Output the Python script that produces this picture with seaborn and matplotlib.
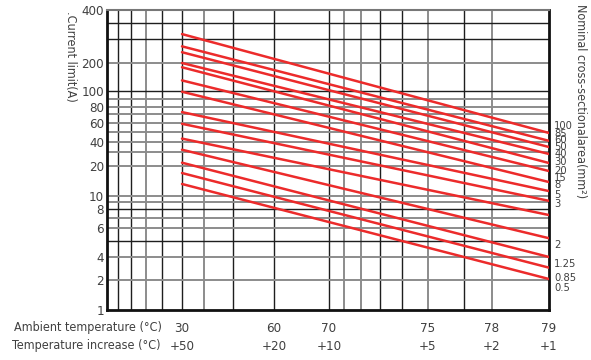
import numpy as np
import pandas as pd
import matplotlib
matplotlib.use("Agg")
import matplotlib.pyplot as plt
import seaborn as sns

# ---- data ----
ambient_from = 30
ambient_to = 79
current_at_30 = [315, 265, 240, 200, 180, 130, 99, 73, 59, 43, 32, 22, 17, 13.2]
current_at_79 = [48.5, 41, 34.6, 28.3, 21.8, 17.8, 13.8, 11.2, 9.2, 7.3, 5.2, 4.0, 2.9, 2.06]

temp_ticks = [30, 60, 70, 75, 78, 79]
rise_labels = ["+50", "+20", "+10", "+5", "+2", "+1"]
current_ticks = [1, 2, 4, 6, 8, 10, 20, 40, 60, 80, 100, 200, 400]

area_labels = ["100", "85", "60", "50", "40", "30", "20", "15", "8", "5", "3",
               "2", "1.25", "0.85", "0.5"]
area_label_current = [56.3, 47.1, 41.7, 34.3, 28.0, 22.3, 17.8, 15.1, 12.9, 10.2,
                      8.7, 4.73, 3.24, 2.14, 1.65]

# grid values (temperature increase for x, current for y)
rise_grid_dark = [90, 80, 60, 50, 30, 20, 10, 7, 6, 3]
rise_grid_light = [70, 40, 9, 8, 5, 2]
current_grid_dark = [350, 300, 100, 8, 5]
current_grid_light = [200, 90, 80, 70, 60, 50, 40, 30, 20, 10, 9, 7, 6, 4, 2]

# ---- the chart's uneven axes ----
x_knots = np.array([-20, 30, 60, 70, 75, 78, 79], float)
x_knot_frac = (np.array([107, 182, 274, 329, 428, 492, 549]) - 107) / 442
y_knots = np.array([1, 2, 4, 6, 8, 10, 20, 40, 60, 80, 100, 200, 300, 400], float)
y_knot_frac = (310 - np.array([310, 280, 257, 228, 209, 196, 166, 142, 123, 107, 91, 63, 39, 10])) / 300

xk = -np.log10(80 - x_knots)
yk = np.log10(y_knots)


def fwd_x(x):
    d = np.clip(80 - np.asarray(x, float), 1e-3, None)
    return np.interp(-np.log10(d), xk, x_knot_frac)


def inv_x(f):
    return 80 - 10 ** (-np.interp(np.asarray(f, float), x_knot_frac, xk))


def fwd_y(v):
    return np.interp(np.log10(np.clip(np.asarray(v, float), 1e-6, None)), yk, y_knot_frac)


def inv_y(f):
    return 10 ** np.interp(np.asarray(f, float), y_knot_frac, yk)


rows = []
for i, (a, b) in enumerate(zip(current_at_30, current_at_79)):
    rows.append({"line": i, "ambient": ambient_from, "current": a})
    rows.append({"line": i, "ambient": ambient_to, "current": b})
df = pd.DataFrame(rows)

sns.set_style("white")
plt.rcParams["font.family"] = ["DejaVu Sans"]
plt.rcParams["font.stretch"] = "condensed"
text_col = "#404040"

fig = plt.figure(figsize=(5.91, 3.6), dpi=100)
ax = fig.add_axes([107 / 591, 50 / 360, 442 / 591, 300 / 360])

sns.lineplot(data=df, x="ambient", y="current", units="line", estimator=None,
             color="#ec2b2b", linewidth=1.8, legend=False, ax=ax, zorder=3)

ax.set_xscale("function", functions=(fwd_x, inv_x))
ax.set_yscale("function", functions=(fwd_y, inv_y))
ax.set_xlim(-20, 79)
ax.set_ylim(1, 400)

for r in rise_grid_dark:
    ax.axvline(80 - r, color="#1e1e1e", lw=1.0, zorder=1)
for r in rise_grid_light:
    ax.axvline(80 - r, color="#8c8c8c", lw=1.4, zorder=1)
for c in current_grid_dark:
    ax.axhline(c, color="#1e1e1e", lw=1.0, zorder=1)
for c in current_grid_light:
    ax.axhline(c, color="#8c8c8c", lw=1.4, zorder=1)

ax.set_xticks(temp_ticks, labels=[f"{t}\n{r}" for t, r in zip(temp_ticks, rise_labels)])
ax.set_yticks(current_ticks, labels=[str(c) for c in current_ticks])
ax.minorticks_off()
ax.tick_params(axis="x", length=0, pad=9, labelsize=9.5, labelcolor=text_col)
ax.tick_params(axis="y", length=0, pad=2, labelsize=9.5, labelcolor=text_col)
for lab in ax.get_xticklabels():
    lab.set_linespacing(1.45)
ax.set_xlabel("")
ax.set_ylabel("")

for side in ["left", "bottom", "right"]:
    ax.spines[side].set_visible(True)
    ax.spines[side].set_color("#111111")
    ax.spines[side].set_linewidth(2.0)
ax.spines["top"].set_visible(True)
ax.spines["top"].set_color("#777777")
ax.spines["top"].set_linewidth(1.5)

for name, c in zip(area_labels, area_label_current):
    ax.text(1.012, c, name, transform=ax.get_yaxis_transform(), ha="left",
            va="center", fontsize=8, color=text_col)

fig.text(14 / 591, 1 - 327 / 360, "Ambient temperature (°C)", ha="left", va="center",
         fontsize=9, color=text_col)
fig.text(12 / 591, 1 - 346 / 360, "Temperature increase (°C)", ha="left", va="center",
         fontsize=9, color=text_col)
fig.text(70 / 591, 1 - 56 / 360, ".Current limit(A)", rotation=270, ha="center",
         va="center", fontsize=9, color=text_col)
fig.text(581 / 591, 1 - 101 / 360, "Nominal cross-sectionalarea(mm²)", rotation=270,
         ha="center", va="center", fontsize=9, color=text_col)

fig.savefig("out.png", dpi=100)
